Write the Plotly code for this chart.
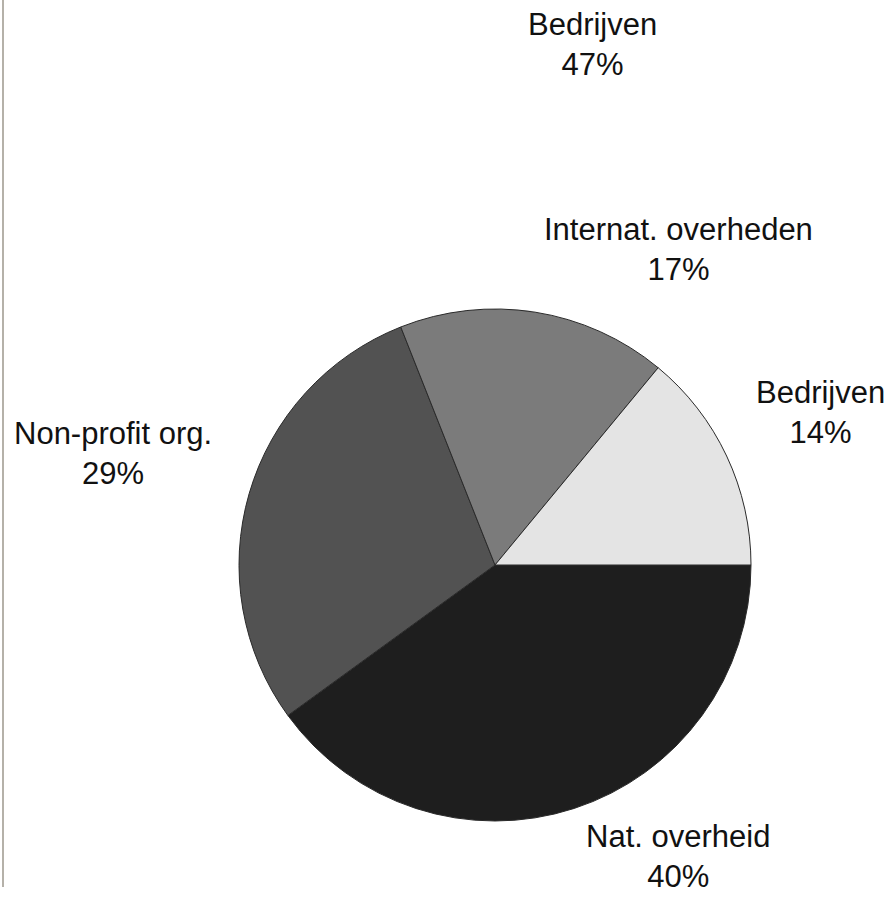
import plotly.graph_objects as go

# slices listed clockwise starting at 3 o'clock
categories = ["Nat. overheid", "Non-profit org.", "Internat. overheden", "Bedrijven"]
shares = [40, 29, 17, 14]
slice_colors = ["#1e1e1e", "#525252", "#7b7b7b", "#e4e4e4"]

# labels drawn as text outside the pie (label, value, paper x, paper y)
label_texts = ["Bedrijven", "Internat. overheden", "Bedrijven", "Non-profit org.", "Nat. overheid"]
label_values = [47, 17, 14, 29, 40]
label_x = [592, 678, 820, 113, 678]
label_y = [44, 250, 412, 453, 856]

W, H = 891, 899

fig = go.Figure()
fig.add_trace(go.Pie(
    labels=categories,
    values=shares,
    sort=False,
    direction="clockwise",
    rotation=90,
    marker=dict(colors=slice_colors, line=dict(color="#2a2a2a", width=1)),
    textinfo="none",
    hoverinfo="label+percent",
    showlegend=False,
    domain=dict(x=[239 / W, 751 / W], y=[1 - 821 / H, 1 - 309 / H]),
))

for t, v, x, y in zip(label_texts, label_values, label_x, label_y):
    fig.add_annotation(
        text=f"{t}<br>{v}%",
        x=x / W, y=1 - y / H, xref="paper", yref="paper",
        xanchor="center", yanchor="middle", showarrow=False,
        font=dict(family="Liberation Sans, Arial, sans-serif", size=31, color="#111111"),
    )

fig.add_shape(type="line", xref="paper", yref="paper",
              x0=3 / W, x1=3 / W, y0=1 - 887 / H, y1=1,
              line=dict(color="#b5b1a9", width=2))

fig.update_layout(
    width=W, height=H,
    margin=dict(l=0, r=0, t=0, b=0),
    paper_bgcolor="white",
    plot_bgcolor="white",
)

fig.write_html("out.html")
